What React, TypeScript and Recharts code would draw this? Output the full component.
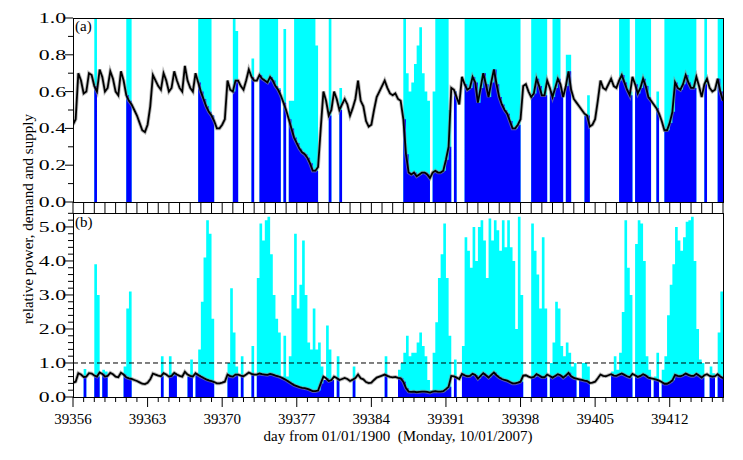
import { ComposedChart, Area, Line, XAxis, YAxis, ReferenceLine } from 'recharts';

const DAY0 = 39356;
const DAY_END = 39417;
const FONT = '"Liberation Serif", "Times New Roman", serif';

// labelled days on the bottom axis
const majorDays = [39356, 39363, 39370, 39377, 39384, 39391, 39398, 39405, 39412];

const yTicksA = [0, 0.1, 0.2, 0.3, 0.4, 0.5, 0.6, 0.7, 0.8, 0.9, 1.0];
const yLabelsA = [0, 0.2, 0.4, 0.6, 0.8, 1.0];
const yTicksB = [0, 0.2, 0.4, 0.6, 0.8, 1.0, 1.2, 1.4, 1.6, 1.8, 2.0, 2.2, 2.4, 2.6, 2.8, 3.0, 3.2, 3.4, 3.6, 3.8, 4.0, 4.2, 4.4, 4.6, 4.8, 5.0, 5.2, 5.4];
const yLabelsB = [0, 1.0, 2.0, 3.0, 4.0, 5.0];

// relative demand, one value every 6 hours from day 39356
const demand = [
  0.42, 0.45, 0.70, 0.66,  0.59, 0.60, 0.70, 0.69, // 0-1
  0.63, 0.60, 0.72, 0.68,  0.60, 0.62, 0.71, 0.67, // 2-3
  0.60, 0.58, 0.71, 0.66,  0.58, 0.55, 0.53, 0.50, // 4-5
  0.47, 0.43, 0.39, 0.38,  0.42, 0.52, 0.69, 0.66, // 6-7
  0.63, 0.61, 0.70, 0.66,  0.60, 0.62, 0.71, 0.66, // 8-9
  0.62, 0.60, 0.74, 0.66,  0.62, 0.60, 0.70, 0.65, // 10-11
  0.60, 0.56, 0.52, 0.49,  0.47, 0.44, 0.40, 0.40, // 12-13
  0.42, 0.45, 0.66, 0.61,  0.60, 0.66, 0.66, 0.63, // 14-15
  0.61, 0.66, 0.72, 0.68,  0.66, 0.66, 0.69, 0.67, // 16-17
  0.66, 0.65, 0.68, 0.66,  0.63, 0.61, 0.58, 0.54, // 18-19
  0.50, 0.45, 0.40, 0.35,  0.32, 0.29, 0.27, 0.26, // 20-21
  0.24, 0.21, 0.17, 0.17,  0.19, 0.40, 0.60, 0.55, // 22-23
  0.47, 0.50, 0.60, 0.56,  0.50, 0.53, 0.56, 0.53, // 24-25
  0.47, 0.51, 0.56, 0.66,  0.55, 0.52, 0.44, 0.41, // 26-27
  0.42, 0.50, 0.57, 0.60,  0.63, 0.66, 0.62, 0.59, // 28-29
  0.58, 0.59, 0.56, 0.55,  0.45, 0.26, 0.16, 0.15, // 30-31
  0.16, 0.14, 0.15, 0.16,  0.16, 0.15, 0.13, 0.16, // 32-33
  0.17, 0.16, 0.16, 0.17,  0.23, 0.30, 0.62, 0.61, // 34-35
  0.57, 0.53, 0.68, 0.64,  0.61, 0.62, 0.68, 0.65, // 36-37
  0.54, 0.62, 0.70, 0.64,  0.57, 0.65, 0.72, 0.64, // 38-39
  0.57, 0.53, 0.50, 0.48,  0.44, 0.40, 0.40, 0.42, // 40-41
  0.45, 0.63, 0.64, 0.60,  0.57, 0.59, 0.67, 0.63, // 42-43
  0.58, 0.58, 0.66, 0.62,  0.57, 0.62, 0.67, 0.64, // 44-45
  0.57, 0.63, 0.71, 0.61,  0.56, 0.54, 0.52, 0.50, // 46-47
  0.48, 0.47, 0.41, 0.42,  0.45, 0.55, 0.66, 0.62, // 48-49
  0.61, 0.64, 0.67, 0.63,  0.62, 0.66, 0.69, 0.65, // 50-51
  0.61, 0.58, 0.68, 0.64,  0.59, 0.62, 0.67, 0.63, // 52-53
  0.57, 0.55, 0.53, 0.51,  0.48, 0.44, 0.39, 0.39, // 54-55
  0.43, 0.49, 0.65, 0.62,  0.61, 0.64, 0.69, 0.65, // 56-57
  0.62, 0.62, 0.68, 0.63,  0.57, 0.64, 0.67, 0.62, // 58-59
  0.60, 0.61, 0.67, 0.60,  0.55, // 60-61
];

// supply in panel (a), clipped at 1.0
const supplyA = [
  0, 0, 0, 0,  0, 0, 0, 0, // 0-1
  1, 0, 0, 0,  0, 0, 0, 0, // 2-3
  0, 0, 0, 0,  1, 1, 0, 0, // 4-5
  0, 0, 0, 0,  0, 0, 0, 0, // 6-7
  0, 0, 0, 0,  0, 0, 0, 0, // 8-9
  0, 0, 0, 0,  0, 0, 0, 1, // 10-11
  1, 1, 1, 1,  0.47, 0, 0, 0, // 12-13
  0, 0, 0, 0,  1, 0.93, 0, 0, // 14-15
  0, 0, 0, 0.78,  0, 0, 1, 1, // 16-17
  1, 1, 1, 1,  1, 0.62, 0, 0.94, // 18-19
  0, 0.55, 0.55, 1,  1, 1, 1, 1, // 20-21
  1, 1, 1, 0.85,  0, 0, 0, 0, // 22-23
  1, 0, 0, 0,  0.62, 0, 0, 0, // 24-25
  0, 0, 0, 0,  0, 0, 0, 0, // 26-27
  0, 0, 0, 0,  0, 0, 0, 0, // 28-29
  0, 0, 0, 0,  1, 0.7, 0.6, 0.65, // 30-31
  0.75, 0.85, 0.95, 0.7,  0.6, 0.55, 0, 0.6, // 32-33
  1, 1, 1, 1,  1, 0.5, 0, 0.6, // 34-35
  0, 0, 0, 1,  1, 1, 1, 1, // 36-37
  1, 1, 1, 1,  1, 1, 1, 1, // 38-39
  1, 1, 1, 1,  1, 1, 1, 1, // 40-41
  0, 0, 0, 0,  1, 1, 1, 1, // 42-43
  1, 1, 0, 0.6,  1, 1, 1, 0.6, // 44-45
  0, 0.8, 0.8, 0,  0, 0, 0, 0, // 46-47
  0.47, 0.58, 0, 0,  0, 0, 0, 0, // 48-49
  0, 0, 0, 0,  0, 1, 1, 1, // 50-51
  1, 0.6, 0, 1,  1, 1, 1, 1, // 52-53
  1, 0, 0, 0.6,  0, 0, 1, 1, // 54-55
  1, 1, 1, 1,  1, 1, 1, 1, // 56-57
  1, 1, 0, 0,  0, 1, 0, 0, // 58-59
  0, 0, 1, 1,  0, // 60-61
];

// supply in panel (b)
const supplyB = [
  0, 0, 0, 0,  0.82, 0, 0, 0, // 0-1
  3.9, 3.0, 0, 0.8,  0.75, 0, 0, 0, // 2-3
  0, 0, 0, 0.9,  2.6, 3.1, 0, 0, // 4-5
  0, 0, 0, 0,  0, 0, 0, 0, // 6-7
  0, 1.2, 0, 0,  1.2, 0.7, 0.7, 0, // 8-9
  0, 0, 0, 0.6,  1.1, 0, 0.7, 1.4, // 10-11
  2.8, 4.1, 5.2, 4.8,  2.3, 0, 0, 0, // 12-13
  0, 0, 1.0, 3.2,  1.9, 0.9, 0, 1.2, // 14-15
  0, 0, 0, 1.5,  0, 3.5, 5.1, 4.6, // 16-17
  5.2, 5.3, 4.2, 3.0,  2.3, 1.9, 0.6, 1.8, // 18-19
  0.6, 1.2, 3.0, 4.8,  2.6, 3.3, 4.6, 3.0, // 20-21
  1.6, 1.4, 2.6, 1.4,  1.6, 0.9, 0.5, 2.1, // 22-23
  1.4, 0.5, 0, 1.2,  0, 0, 0, 0, // 24-25
  0, 0.9, 0, 0,  0, 0, 0, 0, // 26-27
  0, 0, 0, 0,  0, 1.2, 0, 0, // 28-29
  0, 0, 0.8, 1.0,  1.3, 1.8, 1.2, 1.3, // 30-31
  1.3, 1.6, 1.9, 1.5,  1.2, 0.5, 0.2, 1.3, // 32-33
  2.2, 3.5, 4.2, 5.1,  3.5, 1.8, 0, 1.1, // 34-35
  0, 0, 1.5, 4.7,  4.3, 3.8, 5.0, 4.0, // 36-37
  5.0, 5.2, 4.6, 3.5,  5.25, 4.6, 5.2, 4.9, // 38-39
  4.3, 5.2, 4.4, 5.2,  4.4, 4.0, 2.0, 5.3, // 40-41
  3.0, 0, 0, 0,  5.1, 4.3, 3.6, 2.6, // 42-43
  4.7, 2.6, 0, 1.0,  1.6, 2.8, 2.6, 1.5, // 44-45
  1.2, 1.6, 1.3, 0.9,  1.0, 0, 0.5, 1.0, // 46-47
  1.0, 0.9, 0, 0,  0, 0, 0, 0, // 48-49
  0, 0, 0.75, 1.2,  0.8, 1.3, 2.5, 5.2, // 50-51
  3.8, 3.0, 0, 4.5,  5.2, 5.1, 4.0, 1.2, // 52-53
  0.8, 0, 0.6, 1.3,  0, 0.8, 1.2, 2.4, // 54-55
  3.3, 3.9, 5.0, 4.6,  4.3, 4.7, 5.15, 5.2, // 56-57
  5.3, 4.0, 2.0, 1.1,  1.0, 0, 0, 0.9, // 58-59
  0.7, 0, 1.9, 3.1,  3.0, // 60-61
];

const dayTicks = Array.from({ length: DAY_END - DAY0 + 1 }, (_, i) => DAY0 + i);

const buildRows = (supply: number[]) =>
  demand.map((d, i) => ({
    t: DAY0 + i / 4,
    d,
    s: supply[i],
    b: Math.min(supply[i], d),
  }));

const rowsA = buildRows(supplyA);
const rowsB = buildRows(supplyB);

function XTickA(props: any) {
  const { x, y } = props;
  return <line x1={x} x2={x} y1={y} y2={y + 11} stroke="#000" />;
}

function XTickB(props: any) {
  const { x, y, payload } = props;
  const major = majorDays.includes(payload.value);
  return (
    <g>
      <line x1={x} x2={x} y1={y} y2={y + (major ? 10 : 5)} stroke="#000" />
      {major && (
        <text x={x} y={y + 27} textAnchor="middle" fontFamily={FONT} fontSize={15} fill="#000">
          {payload.value}
        </text>
      )}
    </g>
  );
}

const makeYTick = (labels: number[]) => (props: any) => {
  const { x, y, payload } = props;
  const major = labels.includes(payload.value);
  return (
    <g>
      <line x1={x - (major ? 8 : 5)} x2={x} y1={y} y2={y} stroke="#000" />
      {major && (
        <text
          transform={`translate(${x - 7},${y + 5}) scale(1.45,1)`}
          textAnchor="end"
          fontFamily={FONT}
          fontSize={15}
          fill="#000"
        >
          {Number(payload.value).toFixed(1)}
        </text>
      )}
    </g>
  );
};

const YTickA = makeYTick(yLabelsA);
const YTickB = makeYTick(yLabelsB);

function Panel({ rows, top, height, bottom, yMax, yTicks, yTick, xTick, xHeight, dashed }: any) {
  return (
    <div style={{ position: 'absolute', left: 0, top: 0 }}>
      <ComposedChart
        width={743}
        height={height}
        data={rows}
        margin={{ top, right: 20, bottom, left: 0 }}
      >
        <XAxis
          dataKey="t"
          type="number"
          domain={[DAY0, DAY_END]}
          ticks={dayTicks}
          interval={0}
          height={xHeight}
          tickSize={0}
          tickMargin={0}
          tickLine={false}
          axisLine={false}
          tick={xTick}
          allowDataOverflow
        />
        <YAxis
          type="number"
          domain={[0, yMax]}
          ticks={yTicks}
          interval={0}
          width={73}
          tickSize={0}
          tickMargin={0}
          tickLine={false}
          axisLine={false}
          tick={yTick}
          allowDataOverflow
        />
        <Area type="stepAfter" dataKey="s" stroke="none" fill="#00ffff" fillOpacity={1} isAnimationActive={false} />
        <Area type="stepAfter" dataKey="b" stroke="none" fill="#0000ff" fillOpacity={1} isAnimationActive={false} />
        {dashed && <ReferenceLine y={1} stroke="#000" strokeDasharray="5 3" />}
        {/* soft grey halo under the demand trace */}
        <Line type="linear" dataKey="d" stroke="#888" strokeOpacity={0.6} strokeWidth={3.6} dot={false} activeDot={false} isAnimationActive={false} />
        <Line type="linear" dataKey="d" stroke="#000" strokeWidth={1.8} dot={false} isAnimationActive={false} />
      </ComposedChart>
    </div>
  );
}

export default function App() {
  return (
    <div style={{ position: 'absolute', left: 0, top: 0, width: 743, height: 460, background: '#fff' }}>
      <Panel
        rows={rowsA}
        top={18}
        height={220}
        bottom={0}
        xHeight={18}
        yMax={1}
        yTicks={yTicksA}
        yTick={YTickA}
        xTick={XTickA}
        dashed={false}
      />
      <Panel
        rows={rowsB}
        top={213}
        height={460}
        bottom={23}
        xHeight={40}
        yMax={5.41}
        yTicks={yTicksB}
        yTick={YTickB}
        xTick={XTickB}
        dashed
      />
      <svg width={743} height={460} style={{ position: 'absolute', left: 0, top: 0 }}>
        <rect x={73.5} y={18.5} width={650} height={184} fill="none" stroke="#000" />
        <rect x={73.5} y={213.5} width={650} height={184} fill="none" stroke="#000" />
        <g fontFamily={FONT} fontSize={15} fill="#000">
          <text x={75} y={31}>(a)</text>
          <text x={75} y={227}>(b)</text>
          <text transform="translate(33,219) rotate(-90)" textAnchor="middle">
            relative power, demand and supply
          </text>
          <text x={398} y={441} textAnchor="middle" style={{ whiteSpace: 'pre' }}>
            day from 01/01/1900  (Monday, 10/01/2007)
          </text>
        </g>
      </svg>
    </div>
  );
}
